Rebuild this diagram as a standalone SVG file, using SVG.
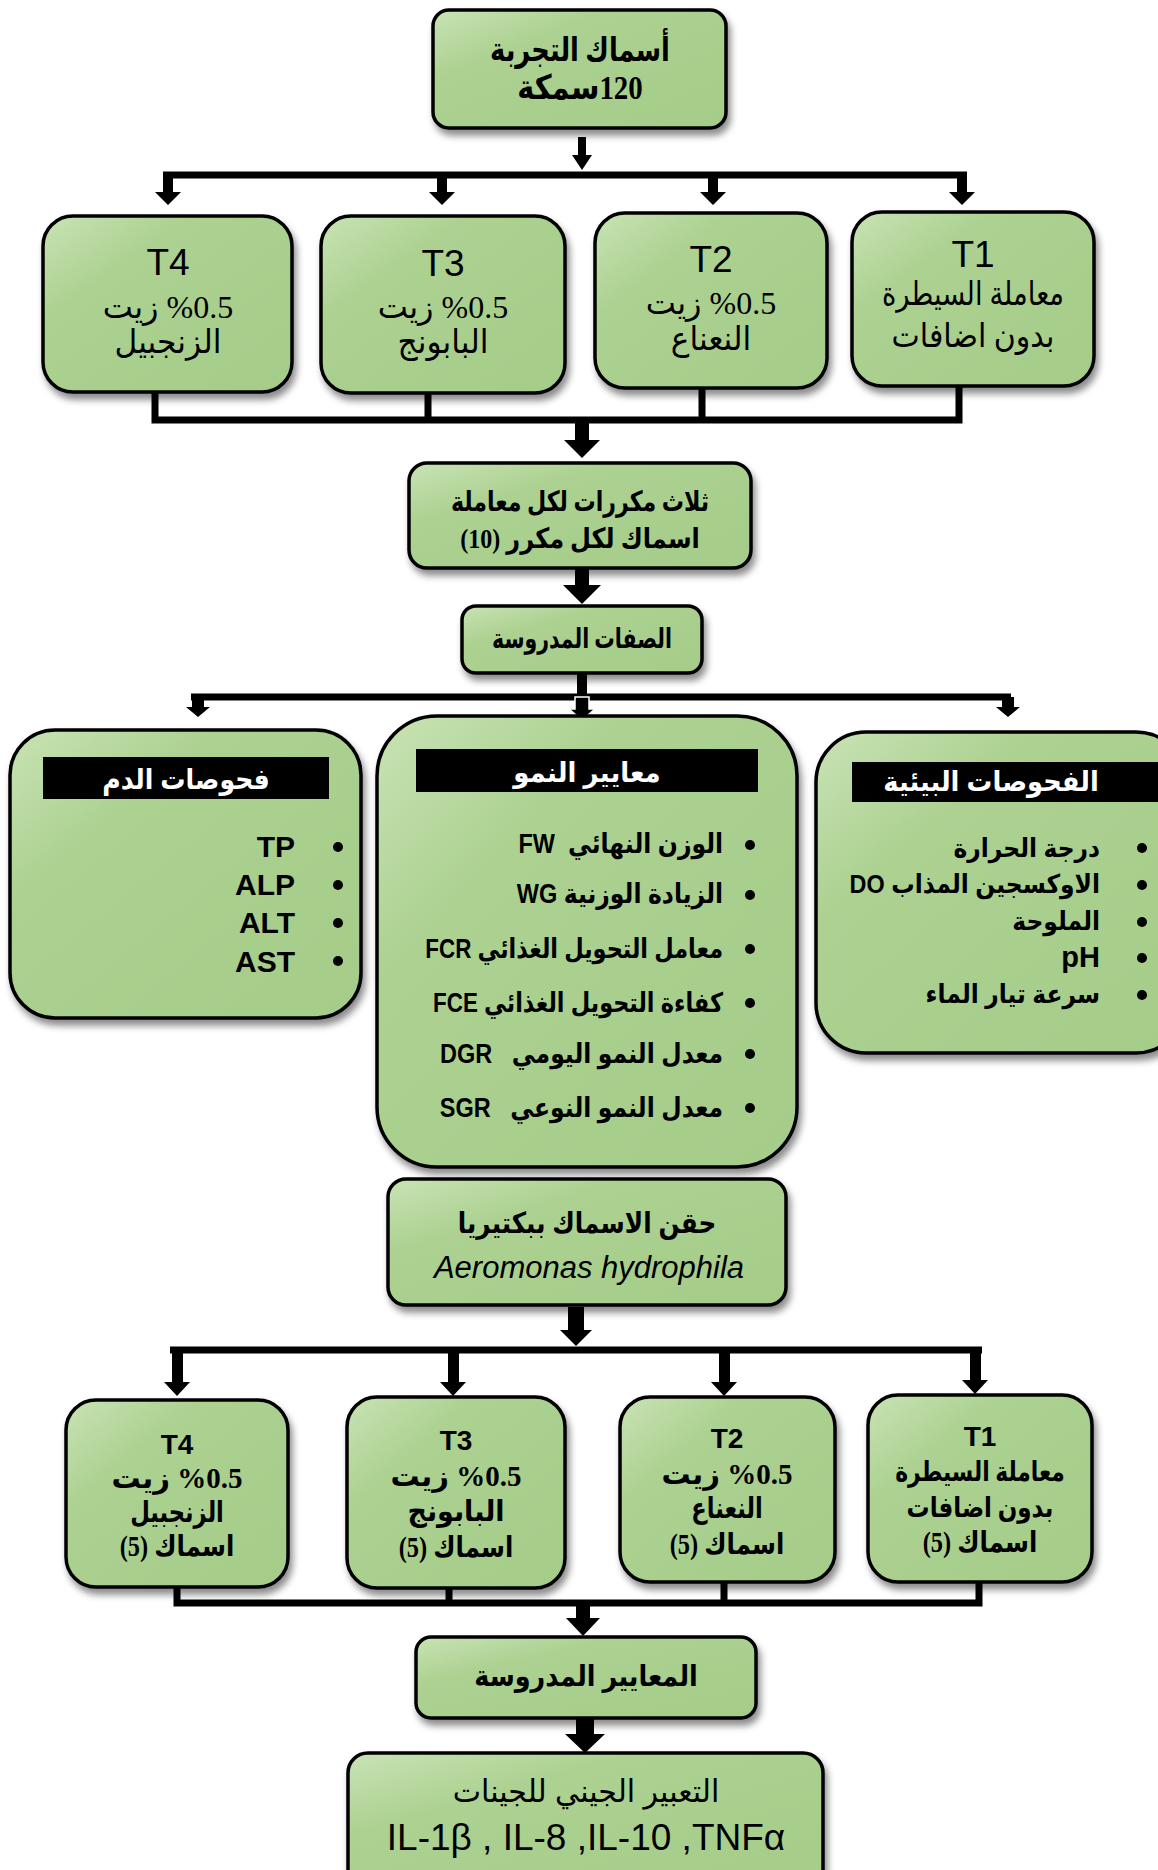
<svg xmlns="http://www.w3.org/2000/svg" width="1158" height="1870" viewBox="0 0 1158 1870">
<defs>
<linearGradient id="g" x1="0" y1="0" x2="1" y2="1">
<stop offset="0" stop-color="#c8e3b4"/>
<stop offset="0.3" stop-color="#acd191"/>
<stop offset="1" stop-color="#a5cc89"/>
</linearGradient>
<filter id="sh" x="-10%" y="-10%" width="125%" height="130%">
<feDropShadow dx="3" dy="6" stdDeviation="3.5" flood-color="#000" flood-opacity="0.45"/>
</filter>
</defs>
<style>
.box{fill:url(#g);stroke:#000;stroke-width:3.5;filter:url(#sh)}
.bar{fill:#000}
.ln{fill:none;stroke:#000;stroke-width:7}
.arw{fill:#000}
.ar{font-family:"Liberation Serif","DejaVu Sans",serif;fill:#000}
.b{font-weight:bold}
.lat{font-family:"Liberation Sans","DejaVu Sans",sans-serif;fill:#000}
.ttl{font-family:"Liberation Sans","DejaVu Sans",sans-serif;font-weight:bold;fill:#fff}
.it{font-family:"Liberation Sans","DejaVu Sans",sans-serif;font-weight:bold;fill:#000}
.pre{white-space:pre}
</style>
<rect width="1158" height="1870" fill="#fff"/>

<g id="connectors">
<path class="arw" d="M578 137 V155 H572 L582 170 L592 155 H586 V137 Z"/>
<path class="ln" d="M163 175 H967"/>
<path class="arw" d="M163 172 H173 V192 H181 L168 205 L155 192 H163 Z"/>
<path class="arw" d="M437 172 H447 V192 H455 L442 205 L429 192 H437 Z"/>
<path class="arw" d="M708 172 H718 V192 H726 L713 205 L700 192 H708 Z"/>
<path class="arw" d="M957 172 H967 V192 H975 L962 205 L949 192 H957 Z"/>
<path class="ln" d="M155 390 V420 H959 V386 M428 392 V420 M702 388 V420"/>
<path class="arw" d="M575 420 V440 H564 L582 458 L600 440 H589 V420 Z"/>
<path class="arw" d="M575 568 V585 H563 L582 604 L601 585 H589 V568 Z"/>
<path class="arw" d="M577 673 V697 H587 V673 Z"/>
<path class="ln" d="M191 697 H1011"/>
<path class="arw" d="M192 697 H204 V707 H210 L198 717 L186 707 H192 Z"/>
<path class="arw" d="M575 697 H589 V709 H595 L582 720 L569 709 H575 Z" stroke="#fff" stroke-width="1.5"/>
<path class="arw" d="M1002 697 H1014 V707 H1020 L1008 717 L996 707 H1002 Z"/>
<path class="arw" d="M568 1307 V1330 H560 L576 1346 L592 1330 H584 V1307 Z"/>
<path class="ln" d="M170 1350 H982"/>
<path class="arw" d="M172 1350 H183 V1382 H190 L177 1396 L164 1382 H172 Z"/>
<path class="arw" d="M448 1350 H459 V1382 H466 L453 1396 L440 1382 H448 Z"/>
<path class="arw" d="M719 1350 H730 V1382 H737 L724 1396 L711 1382 H719 Z"/>
<path class="arw" d="M970 1350 H981 V1380 H988 L975 1394 L962 1380 H970 Z"/>
<path class="ln" d="M177 1587 V1603 H979 V1582 M449 1588 V1603 M724 1582 V1603"/>
<path class="arw" d="M576 1603 V1618 H566 L583 1636 L600 1618 H590 V1603 Z"/>
<path class="arw" d="M576 1718 V1734 H565 L585 1753 L605 1734 H594 V1718 Z"/>
</g>

<g id="fish">
<rect class="box" x="433" y="10" width="293" height="118" rx="16"/>
<text class="ar b" transform="translate(580 61) scale(0.78 1)" font-size="33" text-anchor="middle" direction="rtl">أسماك التجربة</text>
<text class="ar b" transform="translate(580 99) scale(0.85 1)" font-size="34" text-anchor="middle" direction="rtl">120سمكة</text>
</g>

<g id="t4a">
<rect class="box" x="43" y="216" width="249" height="176" rx="30"/>
<text class="lat" x="168" y="275" font-size="37" text-anchor="middle">T4</text>
<text class="ar" x="168" y="318" font-size="32" text-anchor="middle" direction="rtl">%0.5 زيت</text>
<text class="ar" transform="translate(168 353) scale(0.95 1)" font-size="33" text-anchor="middle" direction="rtl">الزنجبيل</text>
</g>
<g id="t3a">
<rect class="box" x="321" y="216" width="244" height="177" rx="30"/>
<text class="lat" x="443" y="276" font-size="37" text-anchor="middle">T3</text>
<text class="ar" x="443" y="318" font-size="32" text-anchor="middle" direction="rtl">%0.5 زيت</text>
<text class="ar" transform="translate(443 353) scale(0.95 1)" font-size="33" text-anchor="middle" direction="rtl">البابونج</text>
</g>
<g id="t2a">
<rect class="box" x="595" y="213" width="232" height="175" rx="30"/>
<text class="lat" x="711" y="272" font-size="37" text-anchor="middle">T2</text>
<text class="ar" x="711" y="314" font-size="32" text-anchor="middle" direction="rtl">%0.5 زيت</text>
<text class="ar" transform="translate(711 350) scale(0.95 1)" font-size="33" text-anchor="middle" direction="rtl">النعناع</text>
</g>
<g id="t1a">
<rect class="box" x="852" y="212" width="242" height="174" rx="30"/>
<text class="lat" x="973" y="267" font-size="37" text-anchor="middle">T1</text>
<text class="ar" transform="translate(973 305) scale(0.83 1)" font-size="33" text-anchor="middle" direction="rtl">معاملة السيطرة</text>
<text class="ar" transform="translate(973 347) scale(0.91 1)" font-size="33" text-anchor="middle" direction="rtl">بدون اضافات</text>
</g>

<g id="replicates">
<rect class="box" x="409" y="463" width="342" height="105" rx="18"/>
<text class="ar b" transform="translate(580 511) scale(0.79 1)" font-size="28" text-anchor="middle" direction="rtl">ثلاث مكررات لكل معاملة</text>
<text class="ar b" transform="translate(580 548) scale(0.86 1)" font-size="28" text-anchor="middle" direction="rtl">اسماك لكل مكرر (10)</text>
</g>

<g id="traits">
<rect class="box" x="462" y="606" width="240" height="67" rx="14"/>
<text class="ar b" transform="translate(582 648) scale(0.73 1)" font-size="28" text-anchor="middle" direction="rtl">الصفات المدروسة</text>
</g>

<g id="blood">
<rect class="box" x="10" y="730" width="351" height="288" rx="45"/>
<rect class="bar" x="43" y="757" width="286" height="42"/>
<text class="ttl" transform="translate(186 789) scale(0.9 1)" font-size="28" text-anchor="middle" direction="rtl">فحوصات الدم</text>
<text class="it" x="295" y="857" font-size="30" text-anchor="end">TP</text>
<text class="it" x="295" y="895" font-size="30" text-anchor="end">ALP</text>
<text class="it" x="295" y="933" font-size="30" text-anchor="end">ALT</text>
<text class="it" x="295" y="972" font-size="30" text-anchor="end">AST</text>
<circle cx="338" cy="847" r="5"/>
<circle cx="338" cy="885" r="5"/>
<circle cx="338" cy="923" r="5"/>
<circle cx="338" cy="961" r="5"/>
</g>

<g id="growth">
<rect class="box" x="377" y="716" width="420" height="451" rx="60"/>
<rect class="bar" x="416" y="749" width="342" height="43"/>
<text class="ttl" transform="translate(587 782) scale(0.93 1)" font-size="28" text-anchor="middle" direction="rtl">معايير النمو</text>
<text class="it pre" transform="translate(723 853) scale(0.87 1)" font-size="27" direction="rtl">الوزن النهائي  FW</text>
<text class="it" transform="translate(723 903) scale(0.87 1)" font-size="27" direction="rtl">الزيادة الوزنية WG</text>
<text class="it" transform="translate(723 958) scale(0.83 1)" font-size="27" direction="rtl">معامل التحويل الغذائي FCR</text>
<text class="it" transform="translate(723 1012) scale(0.83 1)" font-size="27" direction="rtl">كفاءة التحويل الغذائي FCE</text>
<text class="it pre" transform="translate(723 1063) scale(0.87 1)" font-size="27" direction="rtl">معدل النمو اليومي   DGR</text>
<text class="it pre" transform="translate(723 1117) scale(0.87 1)" font-size="27" direction="rtl">معدل النمو النوعي   SGR</text>
<circle cx="750" cy="845" r="5"/>
<circle cx="750" cy="895" r="5"/>
<circle cx="750" cy="949" r="5"/>
<circle cx="750" cy="1003" r="5"/>
<circle cx="750" cy="1054" r="5"/>
<circle cx="750" cy="1108" r="5"/>
</g>

<g id="environment">
<rect class="box" x="816" y="732" width="370" height="321" rx="50"/>
<rect class="bar" x="852" y="762" width="306" height="40"/>
<text class="ttl" transform="translate(991 791) scale(0.92 1)" font-size="28" text-anchor="middle" direction="rtl">الفحوصات البيئية</text>
<text class="it" transform="translate(1100 857) scale(0.9 1)" font-size="26" direction="rtl">درجة الحرارة</text>
<text class="it" transform="translate(1100 893) scale(0.9 1)" font-size="26" direction="rtl">الاوكسجين المذاب DO</text>
<text class="it" transform="translate(1100 930) scale(0.9 1)" font-size="26" direction="rtl">الملوحة</text>
<text class="it" x="1100" y="967" font-size="29" direction="rtl">pH</text>
<text class="it" transform="translate(1100 1003) scale(0.9 1)" font-size="26" direction="rtl">سرعة تيار الماء</text>
<circle cx="1142" cy="848" r="5"/>
<circle cx="1142" cy="885" r="5"/>
<circle cx="1142" cy="922" r="5"/>
<circle cx="1142" cy="958" r="5"/>
<circle cx="1142" cy="995" r="5"/>
</g>

<g id="injection">
<rect class="box" x="388" y="1179" width="398" height="126" rx="18"/>
<text class="it" transform="translate(587 1233) scale(0.85 1)" font-size="29" text-anchor="middle" direction="rtl">حقن الاسماك ببكتيريا</text>
<text class="lat" x="589" y="1278" font-size="31" font-style="italic" text-anchor="middle">Aeromonas hydrophila</text>
</g>

<g id="t4b">
<rect class="box" x="66" y="1400" width="222" height="187" rx="30"/>
<text class="it" x="177" y="1454" font-size="28" text-anchor="middle">T4</text>
<text class="ar b" x="177" y="1488" font-size="29" text-anchor="middle" direction="rtl">%0.5 زيت</text>
<text class="ar b" transform="translate(177 1522) scale(0.78 1)" font-size="29" text-anchor="middle" direction="rtl">الزنجبيل</text>
<text class="ar b" transform="translate(177 1556) scale(0.84 1)" font-size="29" text-anchor="middle" direction="rtl">اسماك (5)</text>
</g>
<g id="t3b">
<rect class="box" x="347" y="1397" width="218" height="191" rx="30"/>
<text class="it" x="456" y="1450" font-size="28" text-anchor="middle">T3</text>
<text class="ar b" x="456" y="1486" font-size="29" text-anchor="middle" direction="rtl">%0.5 زيت</text>
<text class="ar b" transform="translate(456 1521) scale(0.93 1)" font-size="29" text-anchor="middle" direction="rtl">البابونج</text>
<text class="ar b" transform="translate(456 1557) scale(0.84 1)" font-size="29" text-anchor="middle" direction="rtl">اسماك (5)</text>
</g>
<g id="t2b">
<rect class="box" x="620" y="1397" width="215" height="185" rx="30"/>
<text class="it" x="727" y="1448" font-size="28" text-anchor="middle">T2</text>
<text class="ar b" x="727" y="1484" font-size="29" text-anchor="middle" direction="rtl">%0.5 زيت</text>
<text class="ar b" transform="translate(727 1518) scale(0.78 1)" font-size="29" text-anchor="middle" direction="rtl">النعناع</text>
<text class="ar b" transform="translate(727 1554) scale(0.84 1)" font-size="29" text-anchor="middle" direction="rtl">اسماك (5)</text>
</g>
<g id="t1b">
<rect class="box" x="868" y="1395" width="224" height="187" rx="30"/>
<text class="it" x="980" y="1446" font-size="28" text-anchor="middle">T1</text>
<text class="ar b" transform="translate(980 1481) scale(0.78 1)" font-size="28" text-anchor="middle" direction="rtl">معاملة السيطرة</text>
<text class="ar b" transform="translate(980 1517) scale(0.82 1)" font-size="28" text-anchor="middle" direction="rtl">بدون اضافات</text>
<text class="ar b" transform="translate(980 1552) scale(0.84 1)" font-size="29" text-anchor="middle" direction="rtl">اسماك (5)</text>
</g>

<g id="measured">
<rect class="box" x="416" y="1637" width="340" height="81" rx="15"/>
<text class="it" transform="translate(586 1686) scale(0.88 1)" font-size="29" text-anchor="middle" direction="rtl">المعايير المدروسة</text>
</g>

<g id="genes">
<rect class="box" x="348" y="1753" width="475" height="140" rx="20"/>
<text class="lat" transform="translate(586 1802) scale(0.97 1)" font-size="31" text-anchor="middle" direction="rtl">التعبير الجيني للجينات</text>
<text class="lat" x="586" y="1850" font-size="37" text-anchor="middle">IL-1β , IL-8 ,IL-10 ,TNFα</text>
</g>
</svg>
